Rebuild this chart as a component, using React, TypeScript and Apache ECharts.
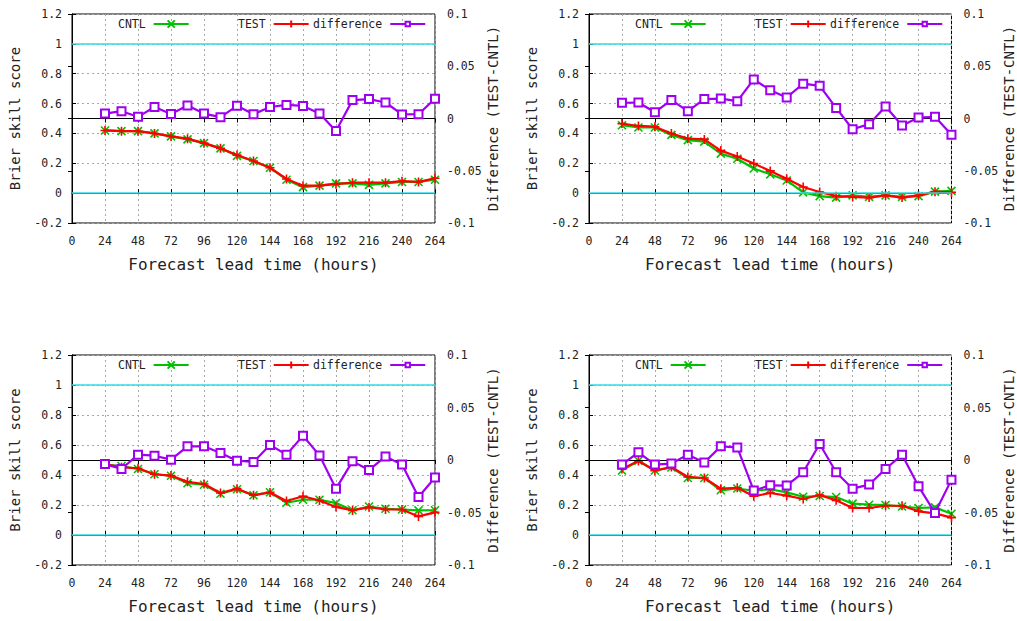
import React, { useEffect, useRef } from "react";
import * as echarts from "echarts";

const hours = [24, 36, 48, 60, 72, 84, 96, 108, 120, 132, 144, 156, 168, 180, 192, 204, 216, 228, 240, 252, 264];
const xTicks = { min: 0, max: 264, interval: 24 };
const bssTicks = { min: -0.2, max: 1.2, interval: 0.2 };
const diffTicks = { min: -0.1, max: 0.1, interval: 0.05 };

const p1Cntl = [0.42, 0.415, 0.415, 0.40, 0.38, 0.36, 0.335, 0.30, 0.25, 0.215, 0.17, 0.09, 0.04, 0.05, 0.065, 0.065, 0.055, 0.065, 0.075, 0.075, 0.09];
const p1Test = [0.42, 0.415, 0.415, 0.40, 0.38, 0.365, 0.335, 0.30, 0.255, 0.215, 0.17, 0.095, 0.05, 0.05, 0.06, 0.07, 0.07, 0.07, 0.08, 0.075, 0.10];
const p1Diff = [0.0047, 0.007, 0.0016, 0.011, 0.0044, 0.0124, 0.0047, 0.0013, 0.0121, 0.0041, 0.011, 0.013, 0.012, 0.0047, -0.0119, 0.0176, 0.0186, 0.0153, 0.0039, 0.0041, 0.019];

const p2Cntl = [0.455, 0.44, 0.44, 0.39, 0.355, 0.345, 0.265, 0.23, 0.165, 0.126, 0.085, 0.005, -0.02, -0.03, -0.015, -0.025, -0.015, -0.025, -0.02, 0.01, 0.015];
const p2Test = [0.466, 0.45, 0.445, 0.40, 0.365, 0.36, 0.285, 0.245, 0.198, 0.149, 0.097, 0.041, 0.008, -0.02, -0.025, -0.03, -0.015, -0.03, -0.015, 0.01, 0.005];
const p2Diff = [0.015, 0.0153, 0.006, 0.0176, 0.007, 0.0186, 0.0191, 0.0166, 0.0374, 0.0271, 0.0201, 0.0333, 0.0313, 0.0101, -0.0103, -0.0054, 0.0114, -0.0067, 0.0009, 0.0016, -0.0156];

const p3Cntl = [0.47, 0.46, 0.44, 0.405, 0.395, 0.345, 0.335, 0.275, 0.305, 0.265, 0.285, 0.215, 0.235, 0.235, 0.213, 0.165, 0.19, 0.175, 0.17, 0.164, 0.165];
const p3Test = [0.473, 0.451, 0.445, 0.405, 0.396, 0.355, 0.34, 0.28, 0.309, 0.265, 0.284, 0.227, 0.258, 0.23, 0.187, 0.164, 0.185, 0.17, 0.17, 0.124, 0.151];
const p3Diff = [-0.0039, -0.0086, 0.0051, 0.0041, 0.0003, 0.013, 0.013, 0.0067, -0.0006, -0.0019, 0.0143, 0.0051, 0.0231, 0.0044, -0.0273, -0.0013, -0.0096, 0.0034, -0.0044, -0.0353, -0.0166];

const p4Cntl = [0.43, 0.495, 0.43, 0.45, 0.38, 0.38, 0.298, 0.31, 0.295, 0.305, 0.284, 0.255, 0.26, 0.253, 0.209, 0.202, 0.2, 0.19, 0.18, 0.184, 0.142];
const p4Test = [0.44, 0.493, 0.429, 0.453, 0.387, 0.38, 0.309, 0.315, 0.258, 0.28, 0.262, 0.24, 0.267, 0.231, 0.18, 0.18, 0.195, 0.195, 0.158, 0.144, 0.116];
const p4Diff = [-0.0044, 0.0073, -0.0044, -0.0034, 0.0051, -0.0023, 0.013, 0.012, -0.0291, -0.0241, -0.0244, -0.0117, 0.0153, -0.0117, -0.0273, -0.0234, -0.0086, 0.0051, -0.0251, -0.0504, -0.0187];

const panels = [
  { cntl: p1Cntl, test: p1Test, diff: p1Diff },
  { cntl: p2Cntl, test: p2Test, diff: p2Diff },
  { cntl: p3Cntl, test: p3Test, diff: p3Diff },
  { cntl: p4Cntl, test: p4Test, diff: p4Diff },
];

const FONT = "DejaVu Sans Mono";
const GREEN = "#00c000";
const RED = "#ff0000";
const PURPLE = "#a000f0";
const CYAN = "#30dde6";
const GRIDC = "#a8a8a8";
const TEXTC = "#222";

const layout = [
  { left: 72, top: 14, width: 363, height: 209 },
  { left: 589, top: 14, width: 363, height: 209 },
  { left: 72, top: 355, width: 363, height: 210 },
  { left: 589, top: 355, width: 363, height: 210 },
];

function buildOption() {
  const grid: any[] = [];
  const xAxis: any[] = [];
  const yAxis: any[] = [];
  const series: any[] = [];
  const legend: any[] = [];

  layout.forEach((g, i) => {
    grid.push({ ...g, show: true, borderColor: "#000", borderWidth: 1, backgroundColor: "transparent" });
    xAxis.push({
      type: "value",
      gridIndex: i,
      ...xTicks,
      name: "Forecast lead time (hours)",
      nameLocation: "middle",
      nameGap: 33,
      nameTextStyle: { fontFamily: FONT, fontSize: 16, color: TEXTC },
      axisLine: { show: true, lineStyle: { color: "#000" } },
      axisTick: { show: true, inside: true, length: 4, lineStyle: { color: "#000" } },
      axisLabel: { fontFamily: FONT, fontSize: 11.5, color: TEXTC, margin: 12 },
      splitLine: { show: true, lineStyle: { color: GRIDC, type: [2, 3], width: 1 } },
    });
    xAxis.push({
      type: "value",
      gridIndex: i,
      position: "top",
      ...xTicks,
      axisLine: { show: false },
      axisTick: { show: true, inside: true, length: 4, lineStyle: { color: "#000" } },
      axisLabel: { show: false },
      splitLine: { show: false },
    });
    yAxis.push({
      type: "value",
      gridIndex: i,
      ...bssTicks,
      name: "Brier skill score",
      nameLocation: "middle",
      nameGap: 50,
      nameTextStyle: { fontFamily: FONT, fontSize: 14, color: TEXTC },
      axisLine: { show: true, lineStyle: { color: "#000" } },
      axisTick: { show: true, inside: true, length: 4, lineStyle: { color: "#000" } },
      axisLabel: { fontFamily: FONT, fontSize: 11.5, color: TEXTC, margin: 10 },
      splitLine: { show: true, lineStyle: { color: GRIDC, type: [2, 3], width: 1 } },
    });
    yAxis.push({
      type: "value",
      gridIndex: i,
      position: "right",
      ...diffTicks,
      name: "Difference (TEST-CNTL)",
      nameLocation: "middle",
      nameGap: 50,
      nameTextStyle: { fontFamily: FONT, fontSize: 14, color: TEXTC },
      axisLine: { show: true, lineStyle: { color: "#000" } },
      axisTick: { show: true, inside: true, length: 4, lineStyle: { color: "#000" } },
      axisLabel: { fontFamily: FONT, fontSize: 11.5, color: TEXTC, margin: 12 },
      splitLine: { show: false },
    });

    const p = panels[i];
    const xi = i * 2;
    const yl = i * 2;
    const yr = i * 2 + 1;
    series.push({
      type: "line",
      name: "refs" + i,
      xAxisIndex: xi,
      yAxisIndex: yl,
      data: [],
      z: 1,
      silent: true,
      markLine: {
        silent: true,
        symbol: ["none", "none"],
        label: { show: false },
        animation: false,
        data: [
          { yAxis: 1, lineStyle: { color: CYAN, width: 1.5, type: "solid" } },
          { yAxis: 0, lineStyle: { color: CYAN, width: 1.5, type: "solid" } },
          { yAxis: 0.5, lineStyle: { color: "#000", width: 1, type: "solid" } },
        ],
      },
    });
    series.push({
      type: "line",
      name: "CNTL",
      xAxisIndex: xi,
      yAxisIndex: yl,
      z: 3,
      data: hours.map((h, k) => [h, p.cntl[k]]),
      color: GREEN,
      symbol: "path://M0,0L10,10M10,0L0,10",
      symbolSize: 8,
      showAllSymbol: true,
      lineStyle: { color: GREEN, width: 2.2 },
      itemStyle: { color: GREEN, borderColor: GREEN, borderWidth: 1.6 },
    });
    series.push({
      type: "line",
      name: "TEST",
      xAxisIndex: xi,
      yAxisIndex: yl,
      z: 4,
      data: hours.map((h, k) => [h, p.test[k]]),
      color: RED,
      symbol: "path://M5,0L5,10M0,5L10,5",
      symbolSize: 9,
      showAllSymbol: true,
      lineStyle: { color: RED, width: 2.2 },
      itemStyle: { color: RED, borderColor: RED, borderWidth: 1.6 },
    });
    series.push({
      type: "line",
      name: "difference",
      xAxisIndex: xi,
      yAxisIndex: yr,
      z: 5,
      data: hours.map((h, k) => [h, p.diff[k]]),
      color: PURPLE,
      symbol: "emptyRect",
      symbolSize: 8,
      showAllSymbol: true,
      lineStyle: { color: PURPLE, width: 2.2 },
      itemStyle: { color: PURPLE, borderColor: PURPLE, borderWidth: 1.5 },
    });

    const dx = g.left - 72;
    const dy = g.top - 14;
    const items = [
      { name: "CNTL", left: 118, h: 9 },
      { name: "TEST", left: 238, h: 9 },
      { name: "difference", left: 313, h: 5.5 },
    ];
    items.forEach((it) => {
      legend.push({
        data: [it.name],
        left: it.left + dx,
        top: 18 + dy,
        padding: 0,
        align: "right",
        itemWidth: 35,
        itemHeight: it.h,
        selectedMode: false,
        textStyle: { fontFamily: FONT, fontSize: 11.5, color: TEXTC, padding: [0, 3, 0, 0] },
      });
    });
  });

  return {
    animation: false,
    backgroundColor: "#fff",
    grid,
    xAxis,
    yAxis,
    series,
    legend,
  };
}

export default function App() {
  const ref = useRef<HTMLDivElement>(null);
  useEffect(() => {
    if (!ref.current) return;
    const chart = echarts.init(ref.current, null, { renderer: "svg" });
    chart.setOption(buildOption() as any);
    return () => chart.dispose();
  }, []);
  return (
    <div
      ref={ref}
      style={{ position: "fixed", left: 0, top: 0, width: 1017, height: 621, background: "#fff" }}
    />
  );
}
